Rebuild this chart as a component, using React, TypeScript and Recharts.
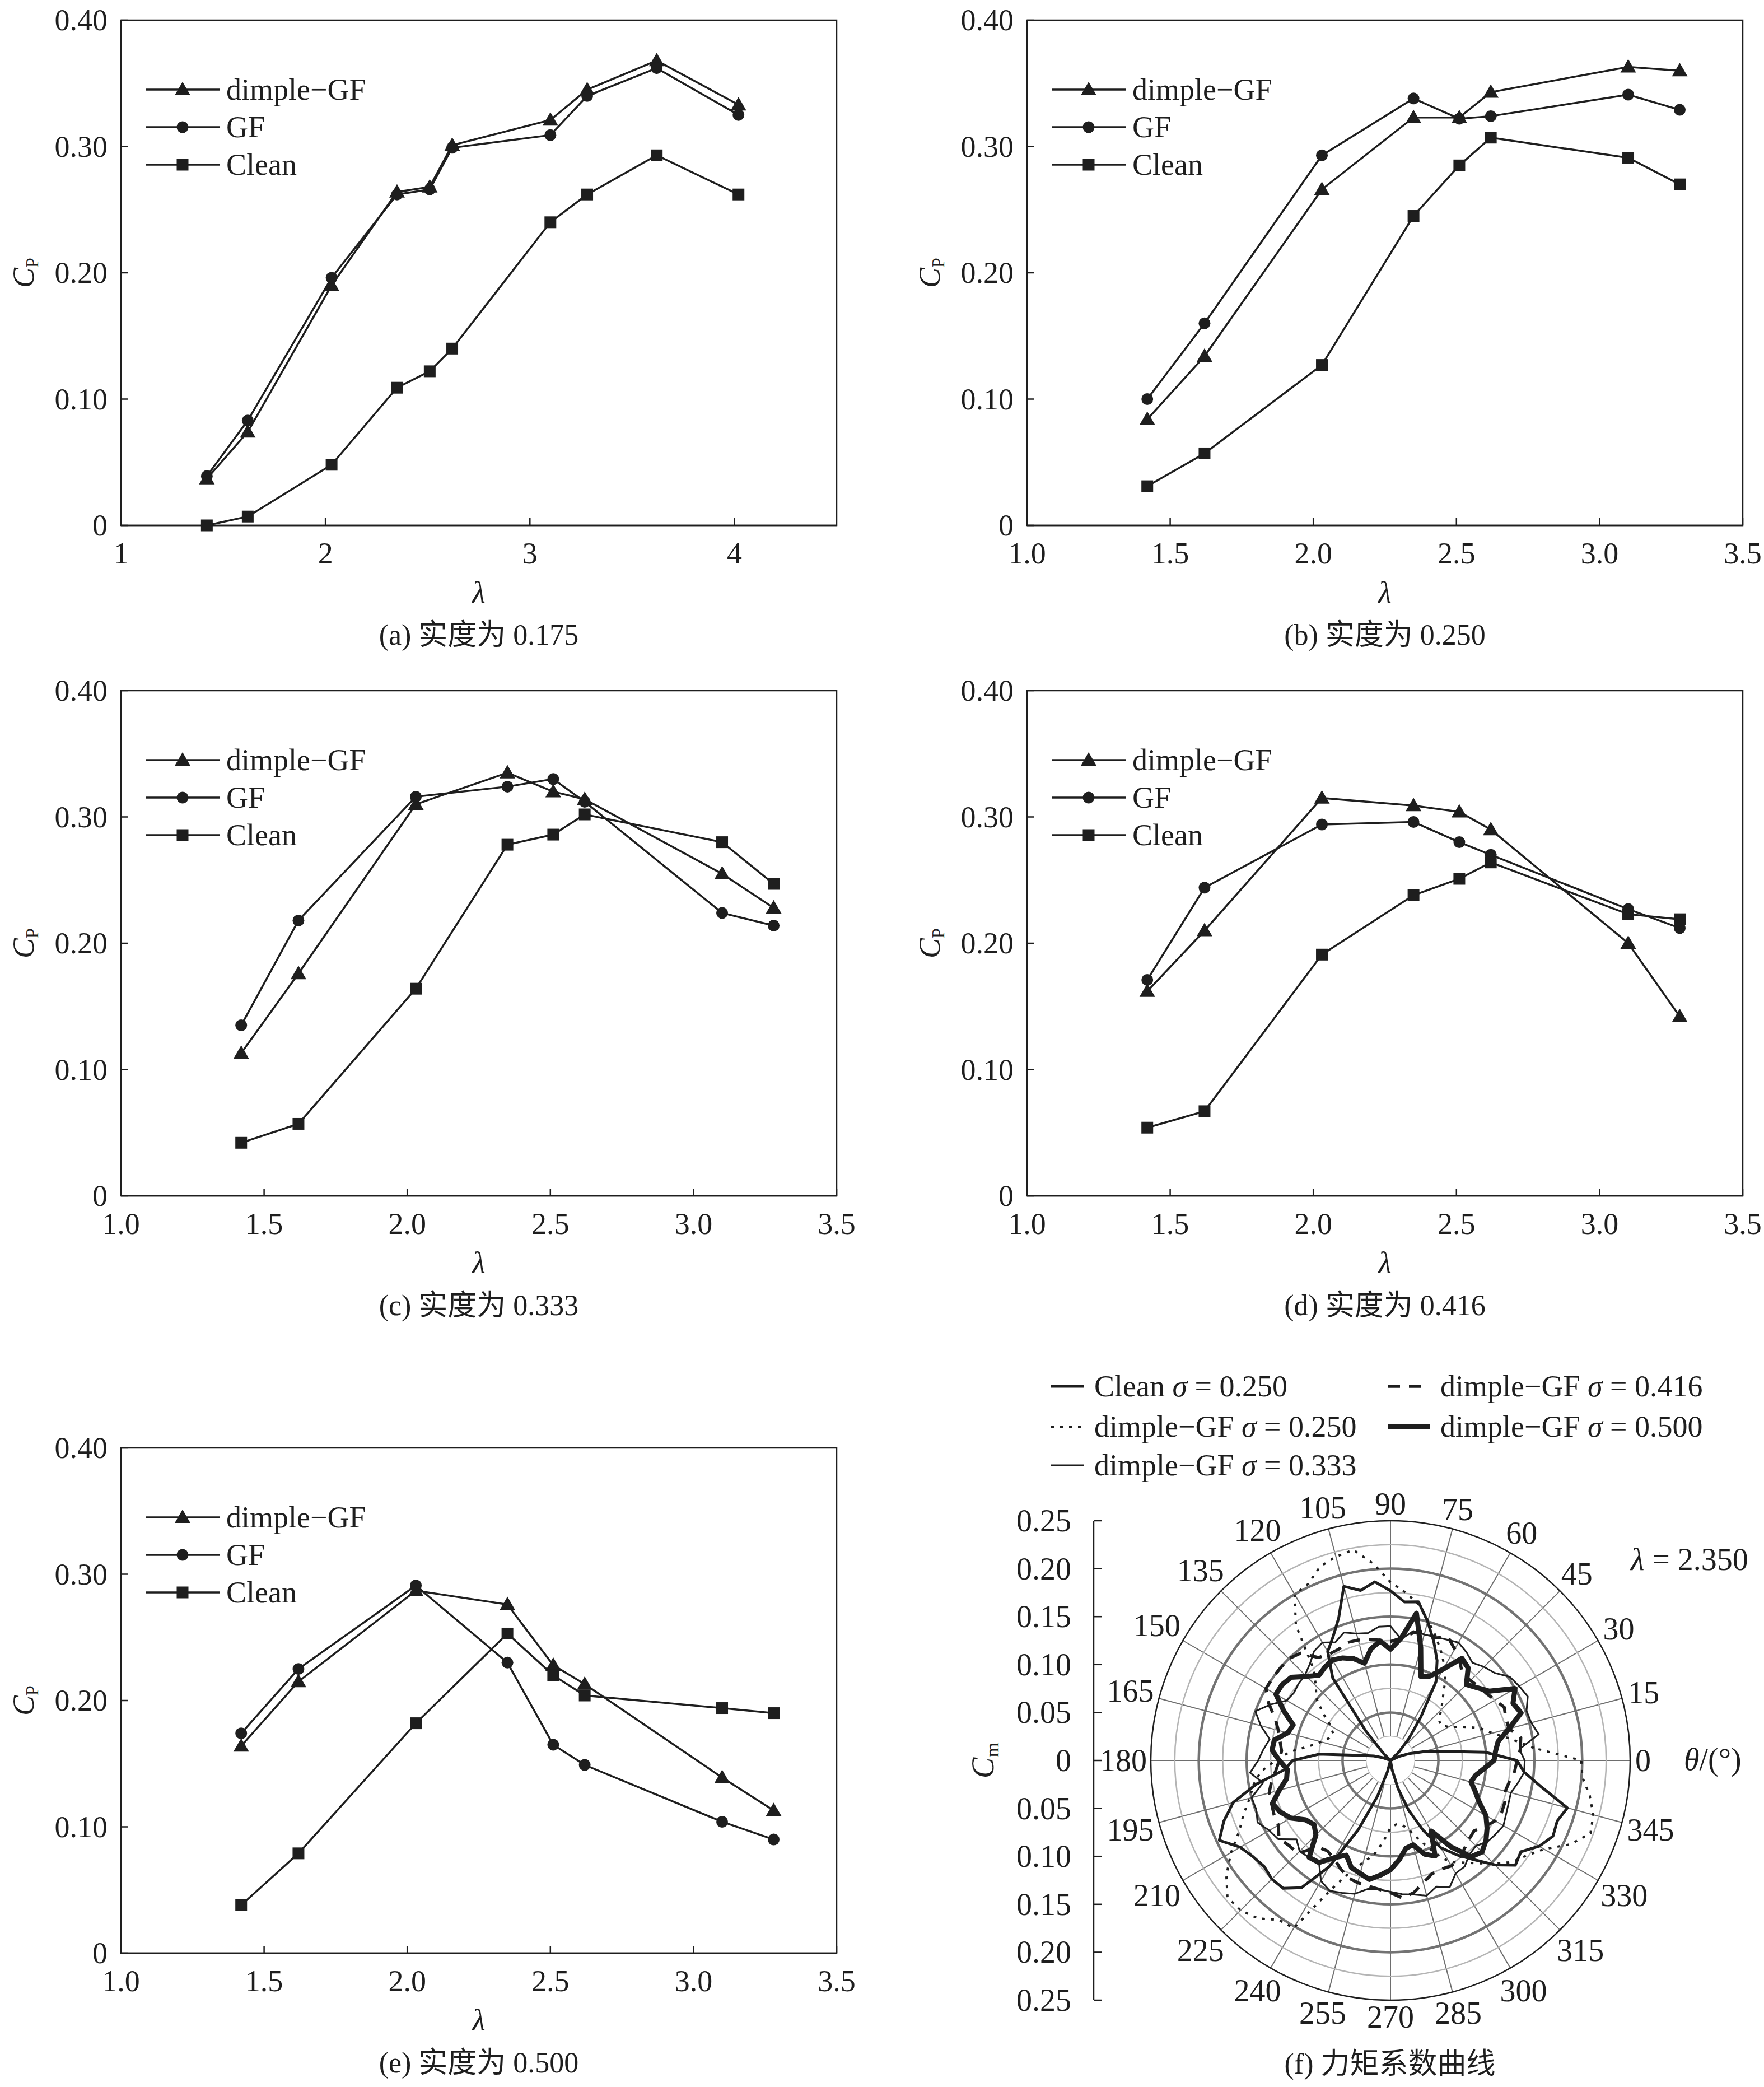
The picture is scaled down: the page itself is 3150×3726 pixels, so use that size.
import React from "react";
import {
  LineChart,
  Line,
  XAxis,
  YAxis,
  ReferenceArea,
  Legend,
  RadarChart,
  Radar,
  PolarGrid,
  PolarAngleAxis,
  PolarRadiusAxis,
  Customized,
} from "recharts";

const FONT = '"Liberation Serif", "Times New Roman", "Noto Sans CJK SC", serif';
const INK = "#1e1e1e";

// ---- Cp curves, panels (a)-(e) ----
const lambdaA = [1.42, 1.62, 2.03, 2.35, 2.51, 2.62, 3.1, 3.28, 3.62, 4.02];
const lambdaB = [1.42, 1.62, 2.03, 2.35, 2.51, 2.62, 3.1, 3.28];

const dimpleA = [0.037, 0.074, 0.19, 0.264, 0.268, 0.301, 0.321, 0.345, 0.368, 0.333];
const gfA = [0.039, 0.083, 0.196, 0.262, 0.266, 0.299, 0.309, 0.34, 0.362, 0.325];
const cleanA = [0.0, 0.007, 0.048, 0.109, 0.122, 0.14, 0.24, 0.262, 0.293, 0.262];

const dimpleB = [0.084, 0.134, 0.266, 0.323, 0.323, 0.343, 0.363, 0.36];
const gfB = [0.1, 0.16, 0.293, 0.338, 0.322, 0.324, 0.341, 0.329];
const cleanB = [0.031, 0.057, 0.127, 0.245, 0.285, 0.307, 0.291, 0.27];

const dimpleC = [0.113, 0.176, 0.31, 0.335, 0.32, 0.314, 0.255, 0.228];
const gfC = [0.135, 0.218, 0.316, 0.324, 0.33, 0.312, 0.224, 0.214];
const cleanC = [0.042, 0.057, 0.164, 0.278, 0.286, 0.302, 0.28, 0.247];

const dimpleD = [0.162, 0.21, 0.315, 0.309, 0.304, 0.29, 0.2, 0.142];
const gfD = [0.171, 0.244, 0.294, 0.296, 0.28, 0.27, 0.227, 0.212];
const cleanD = [0.054, 0.067, 0.191, 0.238, 0.251, 0.264, 0.223, 0.219];

const dimpleE = [0.164, 0.215, 0.287, 0.276, 0.228, 0.213, 0.139, 0.113];
const gfE = [0.174, 0.225, 0.291, 0.23, 0.165, 0.149, 0.104, 0.09];
const cleanE = [0.038, 0.079, 0.182, 0.253, 0.22, 0.204, 0.194, 0.19];

const xTicksA = [1, 2, 3, 4];
const xTicksB = [1.0, 1.5, 2.0, 2.5, 3.0, 3.5];
const cpTicks = [0, 0.1, 0.2, 0.3, 0.4];

// ---- moment coefficient, panel (f) ----
const thetaDeg = [
  0, 5, 10, 15, 20, 25, 30, 35, 40, 45, 50, 55, 60, 65, 70, 75, 80, 85,
  90, 95, 100, 105, 110, 115, 120, 125, 130, 135, 140, 145, 150, 155, 160, 165, 170, 175,
  180, 185, 190, 195, 200, 205, 210, 215, 220, 225, 230, 235, 240, 245, 250, 255, 260, 265,
  270, 275, 280, 285, 290, 295, 300, 305, 310, 315, 320, 325, 330, 335, 340, 345, 350, 355,
];
const cmClean250 = [
  0.099, 0.055, 0.035, 0.021, 0.01, 0.0, 0.0, 0.0, 0.012, 0.03, 0.055, 0.095, 0.115, 0.132, 0.15, 0.168, 0.166, 0.177,
  0.187, 0.18, 0.188, 0.158, 0.142, 0.131, 0.105, 0.04, 0.01, 0.0, 0.0, 0.0, 0.0, 0.008, 0.018, 0.03, 0.075, 0.102,
  0.111, 0.142, 0.17, 0.185, 0.197, 0.181, 0.175, 0.172, 0.175, 0.174, 0.162, 0.128, 0.08, 0.04, 0.012, 0.0, 0.0, 0.0,
  0.0, 0.01, 0.03, 0.055, 0.08, 0.105, 0.12, 0.135, 0.154, 0.17, 0.166, 0.179, 0.187, 0.185, 0.191, 0.16, 0.14, 0.132,
];
const cmDimple250 = [
  0.15, 0.128, 0.11, 0.099, 0.083, 0.07, 0.064, 0.066, 0.075, 0.085, 0.099, 0.113, 0.125, 0.138, 0.151, 0.166, 0.176, 0.186,
  0.206, 0.223, 0.22, 0.215, 0.203, 0.2, 0.172, 0.125, 0.11, 0.101, 0.086, 0.072, 0.066, 0.068, 0.075, 0.086, 0.105, 0.12,
  0.136, 0.145, 0.152, 0.163, 0.174, 0.192, 0.209, 0.222, 0.221, 0.215, 0.203, 0.202, 0.15, 0.124, 0.11, 0.1, 0.085, 0.07,
  0.067, 0.068, 0.075, 0.088, 0.105, 0.122, 0.13, 0.14, 0.152, 0.165, 0.173, 0.185, 0.207, 0.222, 0.219, 0.211, 0.201, 0.199,
];
const cmDimple333 = [
  0.135, 0.157, 0.152, 0.151, 0.158, 0.155, 0.152, 0.142, 0.138, 0.133, 0.138, 0.142, 0.139, 0.137, 0.136, 0.137, 0.127, 0.14,
  0.14, 0.135, 0.137, 0.142, 0.136, 0.142, 0.139, 0.131, 0.126, 0.125, 0.123, 0.125, 0.138, 0.15, 0.14, 0.128, 0.133, 0.138,
  0.147, 0.135, 0.15, 0.149, 0.153, 0.146, 0.143, 0.128, 0.134, 0.132, 0.13, 0.145, 0.15, 0.147, 0.144, 0.136, 0.135, 0.137,
  0.14, 0.142, 0.146, 0.14, 0.146, 0.136, 0.135, 0.128, 0.126, 0.132, 0.134, 0.136, 0.133, 0.131, 0.13, 0.135, 0.14, 0.14,
];
const cmDimple416 = [
  0.136, 0.138, 0.128, 0.128, 0.131, 0.126, 0.122, 0.12, 0.118, 0.117, 0.126, 0.134, 0.142, 0.136, 0.14, 0.135, 0.128, 0.124,
  0.126, 0.128, 0.13, 0.131, 0.128, 0.128, 0.131, 0.146, 0.15, 0.15, 0.15, 0.15, 0.14, 0.128, 0.121, 0.117, 0.114, 0.116,
  0.12, 0.126, 0.131, 0.132, 0.134, 0.135, 0.142, 0.138, 0.137, 0.118, 0.115, 0.118, 0.124, 0.13, 0.132, 0.133, 0.135, 0.138,
  0.144, 0.14, 0.132, 0.126, 0.125, 0.127, 0.125, 0.12, 0.116, 0.114, 0.12, 0.126, 0.128, 0.127, 0.124, 0.126, 0.13, 0.132,
];
const cmDimple500 = [
  0.11, 0.114, 0.128, 0.145, 0.141, 0.15, 0.126, 0.118, 0.112, 0.126, 0.13, 0.11, 0.097, 0.093, 0.122, 0.156, 0.128, 0.116,
  0.125, 0.118, 0.105, 0.113, 0.118, 0.121, 0.119, 0.116, 0.124, 0.135, 0.138, 0.138, 0.123, 0.108, 0.111, 0.123, 0.124, 0.116,
  0.108, 0.11, 0.12, 0.131, 0.127, 0.12, 0.108, 0.104, 0.11, 0.132, 0.13, 0.117, 0.109, 0.119, 0.122, 0.126, 0.12, 0.114,
  0.104, 0.093, 0.091, 0.104, 0.11, 0.085, 0.11, 0.131, 0.135, 0.13, 0.123, 0.115, 0.102, 0.094, 0.087, 0.09, 0.098, 0.108,
];
const angleTicks = [0, 15, 30, 45, 60, 75, 90, 105, 120, 135, 150, 165, 180, 195, 210, 225, 240, 255, 270, 285, 300, 315, 330, 345];
const cmTicks = [-0.25, -0.2, -0.15, -0.1, -0.05, 0, 0.05, 0.1, 0.15, 0.2, 0.25];
const ringsLight = [0.025, 0.075, 0.125, 0.175, 0.225];
const ringsDark = [0.05, 0.1, 0.15, 0.2];

// ---- layout ----
const PW = 1278;
const PH = 902;
const YW = 200;
const XH = 160;
const MT = 60;
const MR = 60;

const panels = [
  { id: "a", left: 216, top: 36, lambda: lambdaA, dimple: dimpleA, gf: gfA, clean: cleanA, xDomain: [1, 4.5], xTicks: xTicksA, fmt: (v: number) => String(v), caption: "(a) 实度为 0.175" },
  { id: "b", left: 1834, top: 36, lambda: lambdaB, dimple: dimpleB, gf: gfB, clean: cleanB, xDomain: [1, 3.5], xTicks: xTicksB, fmt: (v: number) => v.toFixed(1), caption: "(b) 实度为 0.250" },
  { id: "c", left: 216, top: 1233, lambda: lambdaB, dimple: dimpleC, gf: gfC, clean: cleanC, xDomain: [1, 3.5], xTicks: xTicksB, fmt: (v: number) => v.toFixed(1), caption: "(c) 实度为 0.333" },
  { id: "d", left: 1834, top: 1233, lambda: lambdaB, dimple: dimpleD, gf: gfD, clean: cleanD, xDomain: [1, 3.5], xTicks: xTicksB, fmt: (v: number) => v.toFixed(1), caption: "(d) 实度为 0.416" },
  { id: "e", left: 216, top: 2585, lambda: lambdaB, dimple: dimpleE, gf: gfE, clean: cleanE, xDomain: [1, 3.5], xTicks: xTicksB, fmt: (v: number) => v.toFixed(1), caption: "(e) 实度为 0.500" },
];

function TriangleDot({ cx, cy }: any) {
  if (cx == null || cy == null) return <g />;
  const s = 14;
  return <polygon points={`${cx},${cy - s} ${cx - s},${cy + s * 0.72} ${cx + s},${cy + s * 0.72}`} fill={INK} />;
}
function CircleDot({ cx, cy }: any) {
  if (cx == null || cy == null) return <g />;
  return <circle cx={cx} cy={cy} r={10.5} fill={INK} />;
}
function SquareDot({ cx, cy }: any) {
  if (cx == null || cy == null) return <g />;
  return <rect x={cx - 10.5} y={cy - 10.5} width={21} height={21} fill={INK} />;
}

const cpSeries = [
  { key: "dimple", name: "dimple−GF", Dot: TriangleDot },
  { key: "gf", name: "GF", Dot: CircleDot },
  { key: "clean", name: "Clean", Dot: SquareDot },
];

function XTick({ x, y, payload, fmt }: any) {
  return (
    <g>
      <line x1={x} x2={x} y1={y} y2={y - 13} stroke={INK} strokeWidth={2.5} />
      <text x={x} y={y + 50} textAnchor="middle" dominantBaseline="central" fontSize={54} fontFamily={FONT} fill={INK}>
        {fmt(payload.value)}
      </text>
    </g>
  );
}

function YTick({ x, y, payload }: any) {
  const v = payload.value;
  return (
    <g>
      <line x1={x} x2={x + 13} y1={y} y2={y} stroke={INK} strokeWidth={2.5} />
      <text x={x - 24} y={y} textAnchor="end" dominantBaseline="central" fontSize={54} fontFamily={FONT} fill={INK}>
        {v === 0 ? "0" : v.toFixed(2)}
      </text>
    </g>
  );
}

function CpLegend() {
  return (
    <div style={{ fontFamily: FONT, color: INK }}>
      {cpSeries.map((s) => (
        <div key={s.key} style={{ display: "flex", alignItems: "center", height: 67 }}>
          <svg width={131} height={40} style={{ display: "block" }}>
            <line x1={0} x2={131} y1={20} y2={20} stroke={INK} strokeWidth={3.5} />
            <s.Dot cx={65} cy={20} />
          </svg>
          <span style={{ marginLeft: 12, fontSize: 54, lineHeight: "54px" }}>{s.name}</span>
        </div>
      ))}
    </div>
  );
}

function Text({ x, y, size = 54, children, anchor = "center", rotate = 0 }: any) {
  const tx = anchor === "center" ? "-50%" : anchor === "end" ? "-100%" : "0";
  return (
    <div
      style={{
        position: "absolute",
        left: x,
        top: y,
        transform: `translate(${tx}, -50%) rotate(${rotate}deg)`,
        fontFamily: FONT,
        fontSize: size,
        lineHeight: 1,
        color: INK,
        whiteSpace: "nowrap",
      }}
    >
      {children}
    </div>
  );
}

function CpPanel({ p }: any) {
  const rows = p.lambda.map((l: number, i: number) => ({ lambda: l, dimple: p.dimple[i], gf: p.gf[i], clean: p.clean[i] }));
  return (
    <>
      <div style={{ position: "absolute", left: p.left - YW, top: p.top - MT }}>
        <LineChart width={YW + PW + MR} height={MT + PH + XH} data={rows} margin={{ top: MT, right: MR, bottom: 0, left: 0 }}>
          <XAxis
            dataKey="lambda"
            type="number"
            domain={p.xDomain}
            ticks={p.xTicks}
            interval={0}
            height={XH}
            tickSize={0}
            tickMargin={0}
            tickLine={false}
            axisLine={{ stroke: INK, strokeWidth: 2.5 }}
            tick={(props: any) => <XTick x={props.x} y={props.y} payload={props.payload} fmt={p.fmt} />}
          />
          <YAxis
            type="number"
            domain={[0, 0.4]}
            ticks={cpTicks}
            interval={0}
            width={YW}
            tickSize={0}
            tickMargin={0}
            tickLine={false}
            axisLine={{ stroke: INK, strokeWidth: 2.5 }}
            tick={(props: any) => <YTick x={props.x} y={props.y} payload={props.payload} />}
          />
          <ReferenceArea x1={p.xDomain[0]} x2={p.xDomain[1]} y1={0} y2={0.4} fill="none" stroke={INK} strokeWidth={2.5} />
          {cpSeries.map((s) => (
            <Line
              key={s.key}
              dataKey={s.key}
              name={s.name}
              stroke={INK}
              strokeWidth={3.5}
              isAnimationActive={false}
              dot={(props: any) => <s.Dot key={`${s.key}-${props.index}`} cx={props.cx} cy={props.cy} />}
            />
          ))}
          <Legend
            layout="vertical"
            align="center"
            verticalAlign="middle"
            wrapperStyle={{ left: YW + 45, top: MT + 90, width: 520, height: 210 }}
            content={() => <CpLegend />}
          />
        </LineChart>
      </div>
      <Text x={p.left - 172} y={p.top + PH / 2} rotate={-90}>
        <i>C</i>
        <span style={{ fontSize: 32, verticalAlign: "-0.25em" }}>P</span>
      </Text>
      <Text x={p.left + PW / 2} y={p.top + PH + 120}>
        <i>λ</i>
      </Text>
      <Text x={p.left + PW / 2} y={p.top + PH + 196} size={52}>
        {p.caption}
      </Text>
    </>
  );
}

// ---- polar panel ----
const RC_LEFT = 1750;
const RC_TOP = 2420;
const CX = 733;
const CY = 723;
const R = 428;

const polarSeries = [
  { key: "clean250", name: "Clean", sigma: "0.250", width: 5, dash: undefined as string | undefined, col: 0, row: 0 },
  { key: "dimple416", name: "dimple−GF", sigma: "0.416", width: 5.5, dash: "22 16", col: 1, row: 0 },
  { key: "dimple250", name: "dimple−GF", sigma: "0.250", width: 4, dash: "5 11", col: 0, row: 1 },
  { key: "dimple500", name: "dimple−GF", sigma: "0.500", width: 9, dash: undefined, col: 1, row: 1 },
  { key: "dimple333", name: "dimple−GF", sigma: "0.333", width: 3, dash: undefined, col: 0, row: 2 },
];
const drawOrder = ["dimple333", "dimple250", "dimple416", "clean250", "dimple500"];

function AngleTick({ payload }: any) {
  const v = Number(payload?.value);
  if (v % 15 !== 0) return <g />;
  const rad = (v * Math.PI) / 180;
  const s = String(v);
  const r = R + 10 + Math.abs(Math.cos(rad)) * s.length * 13 + Math.abs(Math.sin(rad)) * 20;
  return (
    <text
      x={CX + r * Math.cos(rad)}
      y={CY - r * Math.sin(rad)}
      textAnchor="middle"
      dominantBaseline="central"
      fontSize={56}
      fontFamily={FONT}
      fill={INK}
    >
      {s}
    </text>
  );
}

function PolarLegend() {
  const colX = [127, 728];
  const lineW = [59, 76];
  const rowY = [55, 127, 196];
  return (
    <div style={{ position: "relative", width: 1400, height: 240, fontFamily: FONT, color: INK }}>
      {polarSeries.map((s) => (
        <div
          key={s.key}
          style={{ position: "absolute", left: colX[s.col], top: rowY[s.row] - 30, height: 60, display: "flex", alignItems: "center", whiteSpace: "nowrap" }}
        >
          <svg width={lineW[s.col]} height={20} style={{ display: "block" }}>
            <line x1={0} x2={lineW[s.col]} y1={10} y2={10} stroke={INK} strokeWidth={s.width} strokeDasharray={s.dash} />
          </svg>
          <span style={{ marginLeft: 18, fontSize: 54, lineHeight: "54px" }}>
            {s.name} <i>σ</i> = {s.sigma}
          </span>
        </div>
      ))}
    </div>
  );
}

function CmTick({ x, y, payload }: any) {
  const v = payload.value;
  return (
    <g>
      <line x1={x} x2={x + 14} y1={y} y2={y} stroke={INK} strokeWidth={2.5} />
      <text x={x - 40} y={y} textAnchor="end" dominantBaseline="central" fontSize={56} fontFamily={FONT} fill={INK}>
        {v === 0 ? "0" : Math.abs(v).toFixed(2)}
      </text>
    </g>
  );
}

const px = (v: number) => (v / 0.25) * R;

function HubMask() {
  // spokes stop at the innermost ring
  return <circle cx={CX} cy={CY} r={px(0.025)} fill="#fff" stroke="none" />;
}

function PolarPanel() {
  const rows = thetaDeg.map((t, i) => ({
    theta: t,
    clean250: cmClean250[i],
    dimple250: cmDimple250[i],
    dimple333: cmDimple333[i],
    dimple416: cmDimple416[i],
    dimple500: cmDimple500[i],
  }));
  return (
    <>
      <div style={{ position: "absolute", left: 1700, top: CY + RC_TOP - R - 30 }}>
        <LineChart width={300} height={2 * R + 60} data={[]} margin={{ top: 30, right: 0, bottom: 30, left: 0 }}>
          <XAxis hide type="number" domain={[0, 1]} />
          <YAxis
            type="number"
            domain={[-0.25, 0.25]}
            allowDataOverflow
            ticks={cmTicks}
            interval={0}
            width={253}
            tickSize={0}
            tickMargin={0}
            tickLine={false}
            axisLine={{ stroke: INK, strokeWidth: 2.5 }}
            tick={(props: any) => <CmTick x={props.x} y={props.y} payload={props.payload} />}
          />
        </LineChart>
      </div>
      <div style={{ position: "absolute", left: RC_LEFT, top: RC_TOP }}>
        <RadarChart width={1400} height={1306} data={rows} cx={CX} cy={CY} outerRadius={R} startAngle={0} endAngle={360} margin={{ top: 0, right: 0, bottom: 0, left: 0 }}>
          <PolarGrid gridType="circle" polarAngles={angleTicks} polarRadius={[]} stroke="#6e6e6e" strokeWidth={2} />
          <Customized component={HubMask} />
          <PolarGrid gridType="circle" polarAngles={angleTicks} polarRadius={ringsLight.map(px)} radialLines={false} stroke="#b4b4b4" strokeWidth={2.5} fill="none" />
          <PolarGrid gridType="circle" polarAngles={angleTicks} polarRadius={ringsDark.map(px)} radialLines={false} stroke="#737373" strokeWidth={4.5} fill="none" />
          <PolarGrid gridType="circle" polarAngles={angleTicks} polarRadius={[R]} radialLines={false} stroke={INK} strokeWidth={2.5} fill="none" />
          <PolarAngleAxis dataKey="theta" tickLine={false} axisLine={false} tick={(props: any) => <AngleTick payload={props.payload} />} />
          <PolarRadiusAxis type="number" domain={[0, 0.25]} allowDataOverflow tick={false} axisLine={false} />
          {drawOrder.map((k) => {
            const s = polarSeries.find((q) => q.key === k)!;
            return (
              <Radar
                key={k}
                dataKey={k}
                name={`${s.name} σ = ${s.sigma}`}
                stroke={INK}
                strokeWidth={s.width}
                strokeDasharray={s.dash}
                strokeLinejoin="round"
                fill="none"
                fillOpacity={0}
                dot={false}
                isAnimationActive={false}
              />
            );
          })}
          <Legend
            layout="vertical"
            align="center"
            verticalAlign="middle"
            wrapperStyle={{ left: 0, top: 0, width: 1400, height: 240 }}
            content={() => <PolarLegend />}
          />
        </RadarChart>
      </div>
      <Text x={1758} y={CY + RC_TOP} rotate={-90} size={56}>
        <i>C</i>
        <span style={{ fontSize: 34, verticalAlign: "-0.25em" }}>m</span>
      </Text>
      <Text x={2912} y={2784} anchor="start" size={56}>
        <i>λ</i> = 2.350
      </Text>
      <Text x={3007} y={3141} anchor="start" size={56}>
        <i>θ</i>/(°)
      </Text>
      <Text x={2482} y={3685} size={52}>
        (f) 力矩系数曲线
      </Text>
    </>
  );
}

export default function App() {
  return (
    <div style={{ position: "absolute", left: 0, top: 0, width: 3150, height: 3726, background: "#fff", overflow: "hidden" }}>
      {panels.map((p) => (
        <CpPanel key={p.id} p={p} />
      ))}
      <PolarPanel />
    </div>
  );
}
